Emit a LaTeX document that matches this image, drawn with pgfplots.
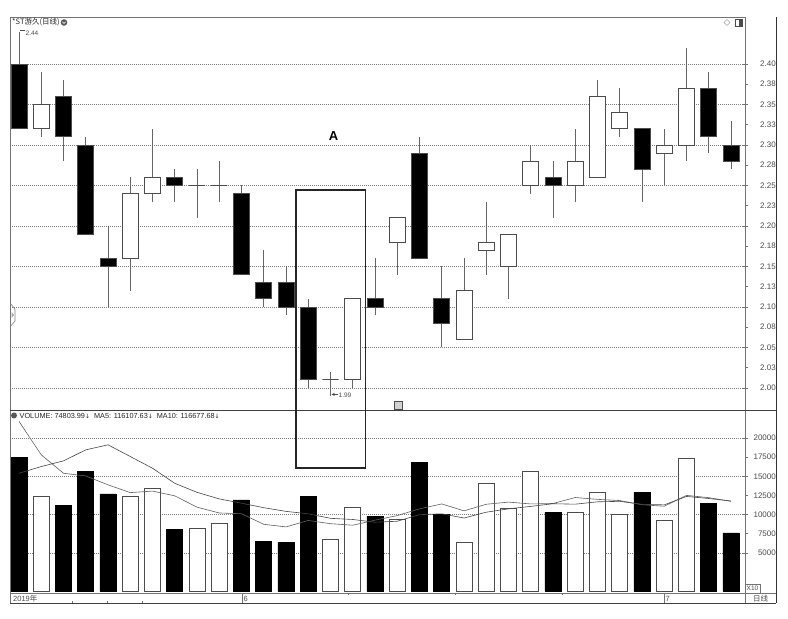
\documentclass[border=0pt]{standalone}
\usepackage{pgfplots}
\pgfplotsset{compat=1.18}
\usepackage{fontspec}
\setmainfont{Liberation Sans}
\newfontfamily\cjk{Noto Sans CJK SC}
\newfontfamily\sym{DejaVu Sans}

\definecolor{edgec}{gray}{0.30}
\definecolor{wickc}{gray}{0.40}
\definecolor{gridc}{gray}{0.50}
\definecolor{framec}{gray}{0.45}
\definecolor{labc}{gray}{0.30}

% position, body top, body bottom, high, low, fill
\newcommand{\candle}[6]{%
  \pgfmathsetmacro\candL{#1-0.36}%
  \pgfmathsetmacro\candR{#1+0.36}%
  \edef\doit{%
    \noexpand\addplot[draw=wickc, line width=0.7pt] coordinates {(#1,#5) (#1,#4)};
    \noexpand\addplot[draw=edgec, fill=#6, line width=0.8pt]
      coordinates {(\candL,#3) (\candR,#3) (\candR,#2) (\candL,#2)} -- cycle;
  }%
  \doit
}

\pgfplotsset{
  chartax/.style={
    scale only axis, width=735pt,
    xmin=0.5955, xmax=33.63,
    axis line style={draw=none},
    xtick=\empty,
    ytick pos=right,
    tick align=outside,
    major tick length=3pt,
    tick style={draw=framec, line width=0.5pt},
    scaled y ticks=false,
    yticklabel style={anchor=east, inner sep=1pt, xshift=29pt,
      font=\fontsize{8}{9}\selectfont, text=labc},
    extra y tick labels={},
    extra y tick style={ymajorgrids=true, major tick length=6pt, tick align=center},
    major grid style={dash pattern=on 0.8pt off 1.2pt, draw=gridc, line width=0.45pt},
  }
}

\begin{document}
\begin{tikzpicture}
\useasboundingbox (0,0) rectangle (788pt,619pt);
\fill[white] (0,0) rectangle (788pt,619pt);

% ---- price panel ----
\begin{axis}[chartax, at={(10pt,209pt)}, anchor=south west, height=393pt,
  ymin=1.9728, ymax=2.458,
  ytick={2.000,2.025,2.050,2.075,2.100,2.125,2.150,2.175,2.200,2.225,2.250,2.275,2.300,2.325,2.350,2.375,2.400},
  yticklabels={2.00,2.03,2.05,2.08,2.10,2.13,2.15,2.18,2.20,2.23,2.25,2.28,2.30,2.33,2.35,2.38,2.40},
  extra y ticks={2.00,2.05,2.10,2.15,2.20,2.25,2.30,2.35,2.40},
]
\candle{1}{2.40}{2.32}{2.44}{2.32}{black}
\candle{2}{2.35}{2.32}{2.39}{2.31}{white}
\candle{3}{2.36}{2.31}{2.38}{2.28}{black}
\candle{4}{2.30}{2.19}{2.31}{2.19}{black}
\candle{5}{2.16}{2.15}{2.20}{2.10}{black}
\candle{6}{2.24}{2.16}{2.26}{2.12}{white}
\candle{7}{2.26}{2.24}{2.32}{2.23}{white}
\candle{8}{2.26}{2.25}{2.27}{2.23}{black}
\candle{9}{2.25}{2.25}{2.27}{2.21}{white}
\candle{10}{2.25}{2.25}{2.28}{2.23}{white}
\candle{11}{2.24}{2.14}{2.25}{2.14}{black}
\candle{12}{2.13}{2.11}{2.17}{2.10}{black}
\candle{13}{2.13}{2.10}{2.15}{2.09}{black}
\candle{14}{2.10}{2.01}{2.11}{2.00}{black}
\candle{15}{2.01}{2.01}{2.02}{1.99}{white}
\candle{16}{2.11}{2.01}{2.11}{2.00}{white}
\candle{17}{2.11}{2.10}{2.16}{2.09}{black}
\candle{18}{2.21}{2.18}{2.21}{2.14}{white}
\candle{19}{2.29}{2.16}{2.31}{2.16}{black}
\candle{20}{2.11}{2.08}{2.15}{2.05}{black}
\candle{21}{2.12}{2.06}{2.16}{2.06}{white}
\candle{22}{2.18}{2.17}{2.23}{2.14}{white}
\candle{23}{2.19}{2.15}{2.19}{2.11}{white}
\candle{24}{2.28}{2.25}{2.30}{2.24}{white}
\candle{25}{2.26}{2.25}{2.28}{2.21}{black}
\candle{26}{2.28}{2.25}{2.32}{2.23}{white}
\candle{27}{2.36}{2.26}{2.38}{2.26}{white}
\candle{28}{2.34}{2.32}{2.37}{2.31}{white}
\candle{29}{2.32}{2.27}{2.32}{2.23}{black}
\candle{30}{2.30}{2.29}{2.32}{2.25}{white}
\candle{31}{2.37}{2.30}{2.42}{2.28}{white}
\candle{32}{2.37}{2.31}{2.39}{2.29}{black}
\candle{33}{2.30}{2.28}{2.33}{2.27}{black}
\end{axis}

% ---- volume panel ----
\begin{axis}[chartax, at={(10pt,26pt)}, anchor=south west, height=183pt,
  ymin=-260, ymax=23660,
  ytick={5000,7500,10000,12500,15000,17500,20000},
  yticklabels={5000,7500,10000,12500,15000,17500,20000},
  extra y ticks={5000,10000,15000,20000},
]
\addplot[ybar, bar width=0.72, bar shift=0pt, fill=black, draw=black, line width=0.6pt]
  coordinates {(1,17500) (3,11200) (4,15600) (5,12700) (8,8100) (11,11900) (12,6500)
    (13,6400) (14,12400) (17,9800) (19,16800) (20,10000) (25,10300) (29,12900)
    (32,11400) (33,7600)};
\addplot[ybar, bar width=0.72, bar shift=0pt, fill=white, draw=edgec, line width=0.6pt]
  coordinates {(2,12400) (6,12400) (7,13400) (9,8200) (10,8900) (15,6800) (16,10900)
    (18,9400) (21,6400) (22,14100) (23,10800) (24,15600) (26,10300) (27,12900)
    (28,10000) (30,9300) (31,17400)};
% MA5
\addplot[gray!75!black, line width=0.6pt] coordinates {
  (1,22170) (2,17800) (3,15390) (4,15040) (5,13880) (6,12860) (7,13060) (8,12440)
  (9,10960) (10,10200) (11,10100) (12,8720) (13,8380) (14,9220) (15,8800) (16,8600)
  (17,9260) (18,9860) (19,10740) (20,11380) (21,10480) (22,11340) (23,11620)
  (24,11380) (25,11440) (26,12220) (27,11980) (28,11820) (29,11280) (30,11080)
  (31,12500) (32,12200) (33,11720)};
% MA10
\addplot[gray!55!black, line width=0.6pt] coordinates {
  (1,15390) (2,16270) (3,17010) (4,18450) (5,19110) (6,17580) (7,16050) (8,14080)
  (9,12900) (10,12040) (11,11480) (12,10890) (13,10410) (14,10090) (15,9500)
  (16,9350) (17,8990) (18,9120) (19,9980) (20,10090) (21,9540) (22,10300)
  (23,10740) (24,11060) (25,11410) (26,11350) (27,11660) (28,11720) (29,11330)
  (30,11260) (31,12360) (32,12090) (33,11770)};
\end{axis}

% ---- frame and annotations (pixel coordinates, y downwards) ----
\begin{scope}[yshift=619pt, x=1pt, y=-1pt]
  \draw[framec, line width=0.8pt] (10,17) -- (745,17);
  \draw[framec, line width=0.8pt] (10,17) -- (10,603);
  \draw[framec, line width=1pt] (745,17) -- (745,603);
  \draw[black!80, line width=1pt] (776,17) -- (776,603);
  \draw[black!75, line width=1pt] (10,410.5) -- (776,410.5);
  \draw[framec, line width=0.8pt] (10,593) -- (776,593);
  \draw[black!75, line width=0.8pt] (10,603) -- (776,603);
  % date strip
  \draw[framec, line width=0.6pt] (242,593) -- (242,603);
  \draw[framec, line width=0.6pt] (664,593) -- (664,603);
  \foreach \xx in {348,455,562} \draw[framec, line width=0.6pt] (\xx,593) -- (\xx,595);
  \foreach \xx in {72,107,142} \draw[framec, line width=0.6pt] (\xx,601) -- (\xx,603);
  \node[anchor=west, inner sep=0pt, text=labc, font=\fontsize{7.5}{8}\selectfont] at (13,598.5) {2019{\cjk 年}};
  \node[anchor=west, inner sep=0pt, text=labc, font=\fontsize{7.5}{8}\selectfont] at (243.5,598.5) {6};
  \node[anchor=west, inner sep=0pt, text=labc, font=\fontsize{7.5}{8}\selectfont] at (665.5,598.5) {7};
  \node[anchor=center, inner sep=0pt, text=labc, font=\cjk\fontsize{7.5}{8}\selectfont] at (760.5,598.5) {日线};
  \draw[framec, line width=0.5pt] (745,584) rectangle (760,593);
  \node[anchor=center, inner sep=0pt, text=labc, font=\fontsize{6.5}{7}\selectfont] at (752.5,588.5) {X10};
  % title
  \node[anchor=west, inner sep=0pt, text=black!85, font=\cjk\fontsize{7.5}{8}\selectfont] at (12,22.5) {*ST游久(日线)};
  \fill[gray!70!black] (64,22.5) circle (3.3);
  \draw[white, line width=0.6pt] (62.3,21.8) -- (64,23.4) -- (65.7,21.8);
  % top right icons
  \draw[gray!70, line width=0.6pt] (727,19.5) -- (730,22.5) -- (727,25.5) -- (724,22.5) -- cycle;
  \draw[gray!60!black, line width=0.6pt] (735,19) rectangle (742,26);
  \fill[gray!60!black] (738.5,19) rectangle (742,26);
  % high / low marks
  \draw[labc, line width=0.5pt] (19.5,30.5) -- (25,30.5);
  \node[anchor=west, inner sep=0pt, text=labc, font=\fontsize{6.5}{7}\selectfont] at (25.5,33) {2.44};
  \draw[labc, line width=0.5pt, -stealth] (338,394.5) -- (331.5,394.5);
  \node[anchor=west, inner sep=0pt, text=labc, font=\fontsize{6.5}{7}\selectfont] at (338.5,395.5) {1.99};
  % small icons
  \draw[gray!60!black, fill=gray!35, line width=0.5pt] (394,401) rectangle (402,409);
  \draw[gray, line width=0.6pt] (10,303) -- (15,309) -- (15,321) -- (10,327);
  \fill[gray!70] (11.5,312) -- (14,315) -- (11.5,318) -- cycle;
  % annotation A
  \draw[black!85, line width=1.2pt] (296,190) rectangle (365.5,468);
  \node[font=\bfseries\fontsize{13}{14}\selectfont] at (333.5,136) {A};
  % volume header
  \fill[gray!70!black] (14,415.5) circle (3);
  \node[anchor=west, inner sep=0pt, text=black!85, font=\fontsize{7.3}{8}\selectfont] at (19.5,415.5)
    {VOLUME: 74803.99{\sym\fontsize{6}{7}\selectfont ↓}\ \ MA5: 116107.63{\sym\fontsize{6}{7}\selectfont ↓}\ \ MA10: 116677.68{\sym\fontsize{6}{7}\selectfont ↓}};
\end{scope}
\end{tikzpicture}
\end{document}
